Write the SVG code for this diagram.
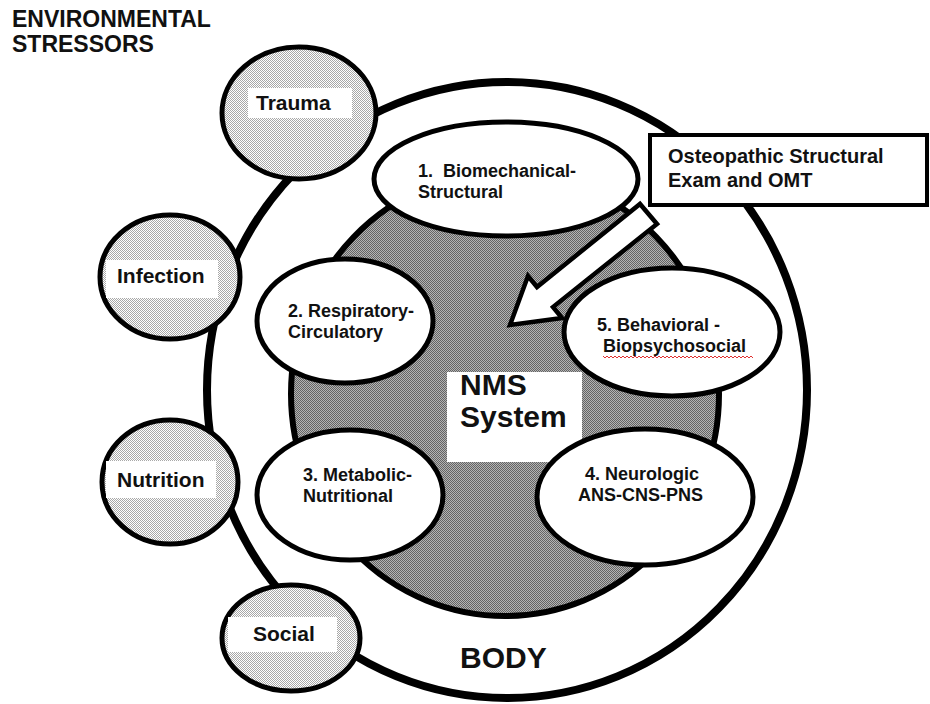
<svg xmlns="http://www.w3.org/2000/svg" width="930" height="704" viewBox="0 0 930 704">
<defs>
<pattern id="light" width="2" height="2" patternUnits="userSpaceOnUse">
<rect width="2" height="2" fill="#ffffff"/>
<rect x="0" y="0" width="1" height="1" fill="#a8a8a8"/>
<rect x="1" y="1" width="1" height="1" fill="#a8a8a8"/>
</pattern>
<pattern id="dark" width="2" height="2" patternUnits="userSpaceOnUse">
<rect width="2" height="2" fill="#b4b4b4"/>
<rect x="0" y="0" width="1" height="1" fill="#646464"/>
<rect x="1" y="1" width="1" height="1" fill="#646464"/>
</pattern>
</defs>
<style>
text{font-family:"Liberation Sans",Arial,sans-serif;font-weight:bold;fill:#111;}
.stress{fill:url(#light);stroke:#000;stroke-width:5;}
.band{fill:#fff;}
.sl{font-size:21px;}
.sys{fill:#fff;stroke:#000;stroke-width:5;}
.el{font-size:18px;}
</style>
<rect width="930" height="704" fill="#fff"/>
<g id="title">
<text x="12" y="27" font-size="23">ENVIRONMENTAL</text>
<text x="12" y="52" font-size="23">STRESSORS</text>
</g>
<g id="body">
<ellipse cx="507" cy="390" rx="300" ry="308" fill="#fff" stroke="#000" stroke-width="8"/>
<text x="460" y="668" font-size="30">BODY</text>
</g>
<g id="trauma">
<ellipse class="stress" cx="299" cy="113" rx="77" ry="66"/>
<rect class="band" x="248" y="88" width="104" height="30"/>
<text class="sl" x="256" y="110">Trauma</text>
</g>
<g id="infection">
<ellipse class="stress" cx="170" cy="277" rx="70" ry="62"/>
<rect class="band" x="106" y="260" width="112" height="38"/>
<text class="sl" x="117" y="283">Infection</text>
</g>
<g id="nutrition">
<ellipse class="stress" cx="170" cy="482" rx="68" ry="62"/>
<rect class="band" x="106" y="461" width="110" height="37"/>
<text class="sl" x="117" y="487">Nutrition</text>
</g>
<g id="social">
<ellipse class="stress" cx="291" cy="638" rx="69" ry="53"/>
<rect class="band" x="228" y="617" width="109" height="35"/>
<text class="sl" x="253" y="641">Social</text>
</g>
<g id="nms">
<ellipse cx="505" cy="394" rx="214" ry="222" fill="url(#dark)" stroke="#000" stroke-width="6"/>
<rect x="447" y="372" width="135" height="90" fill="#fff"/>
<text x="460" y="395" font-size="30">NMS</text>
<text x="460" y="427" font-size="30">System</text>
</g>
<g id="n1">
<ellipse class="sys" cx="506" cy="179" rx="132" ry="57"/>
<text class="el" x="418" y="177" xml:space="preserve">1.  Biomechanical-</text>
<text class="el" x="418" y="198">Structural</text>
</g>
<g id="n2">
<ellipse class="sys" cx="345" cy="321" rx="88" ry="62"/>
<text class="el" x="288" y="317">2. Respiratory-</text>
<text class="el" x="288" y="338">Circulatory</text>
</g>
<g id="n3">
<ellipse class="sys" cx="350" cy="495" rx="93" ry="65"/>
<text class="el" x="303" y="481">3. Metabolic-</text>
<text class="el" x="303" y="502">Nutritional</text>
</g>
<g id="n4">
<ellipse class="sys" cx="645" cy="497" rx="108" ry="68"/>
<text class="el" x="585" y="480">4. Neurologic</text>
<text class="el" x="578" y="501">ANS-CNS-PNS</text>
</g>
<g id="n5">
<ellipse class="sys" cx="672" cy="332" rx="108" ry="64"/>
<text class="el" x="597" y="331">5. Behavioral -</text>
<text class="el" x="603" y="352">Biopsychosocial</text>
<path d="M603,356 l2,2 l2,-2 l2,2 l2,-2 l2,2 l2,-2 l2,2 l2,-2 l2,2 l2,-2 l2,2 l2,-2 l2,2 l2,-2 l2,2 l2,-2 l2,2 l2,-2 l2,2 l2,-2 l2,2 l2,-2 l2,2 l2,-2 l2,2 l2,-2 l2,2 l2,-2 l2,2 l2,-2 l2,2 l2,-2 l2,2 l2,-2 l2,2 l2,-2 l2,2 l2,-2 l2,2 l2,-2 l2,2 l2,-2 l2,2 l2,-2 l2,2 l2,-2 l2,2 l2,-2 l2,2 l2,-2 l2,2 l2,-2 l2,2 l2,-2 l2,2 l2,-2 l2,2 l2,-2 l2,2 l2,-2 l2,2 l2,-2 l2,2 l2,-2 l2,2 l2,-2 l2,2 l2,-2 l2,2 l2,-2 l2,2 l2,-2 l2,2 l2,-2 l2,2" fill="none" stroke="#e03030" stroke-width="1"/>
</g>
<g id="connectors">
<polygon points="510,325 528,276 537,287 640,204 657,224 553,307 562,318" fill="#fff" stroke="#000" stroke-width="4.5" stroke-linejoin="miter"/>
</g>
<g id="omt">
<rect x="650" y="135" width="277" height="70" fill="#fff" stroke="#000" stroke-width="4"/>
<text x="668" y="163" font-size="20">Osteopathic Structural</text>
<text x="668" y="187" font-size="20">Exam and OMT</text>
</g>
</svg>
